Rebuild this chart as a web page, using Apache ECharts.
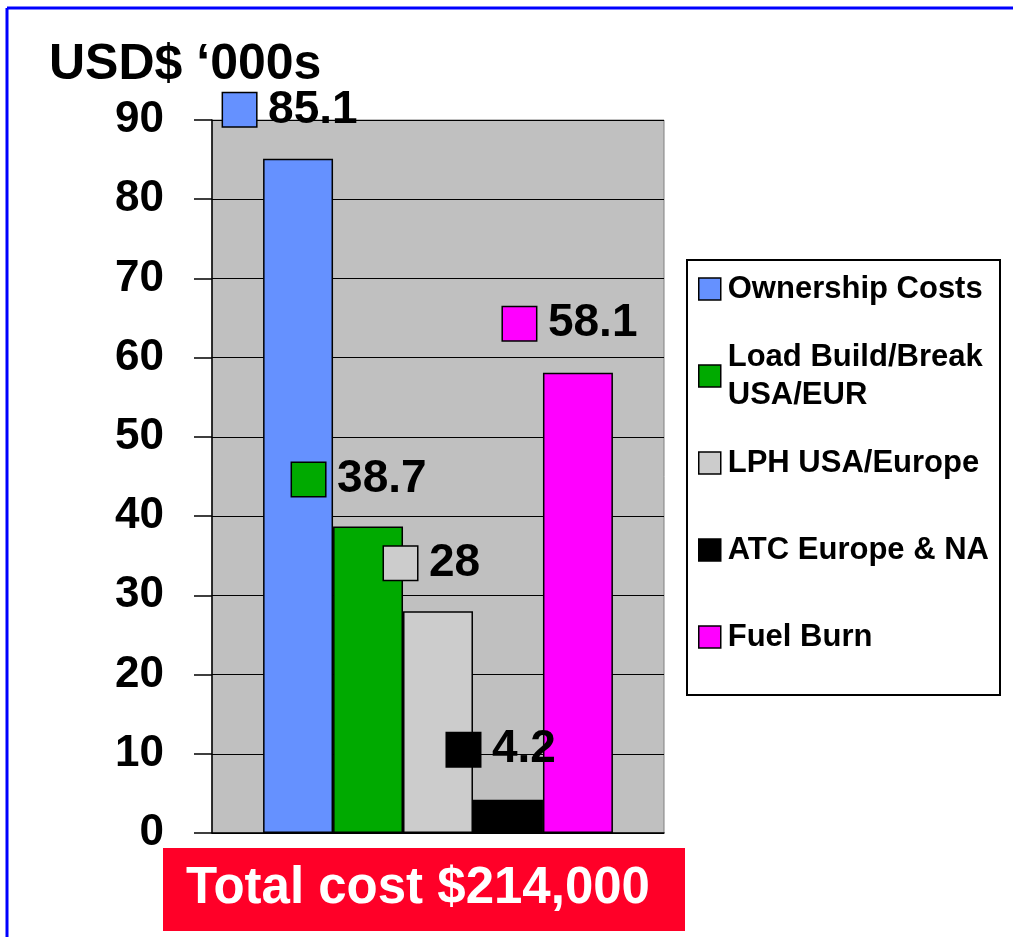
<!DOCTYPE html>
<html>
<head>
<meta charset="utf-8">
<title>USD$ '000s</title>
<script src="https://cdn.jsdelivr.net/npm/echarts@6/dist/echarts.min.js"></script>
<style>
  html, body { margin: 0; padding: 0; background: #fff; }
  #chart { width: 1013px; height: 937px; }
</style>
</head>
<body>
<div id="chart"></div>
<script>
// data
const categories = [''];
const seriesNames = ['Ownership Costs', 'Load Build/Break\nUSA/EUR', 'LPH USA/Europe', 'ATC Europe & NA', 'Fuel Burn'];
const seriesValues = [85.1, 38.7, 28, 4.2, 58.1];
const yMin = 0;
const yMax = 90;
const yStep = 10;
const totalText = 'Total cost $214,000';

// styles
const colors = ['#6591FF', '#00AA00', '#CCCCCC', '#000000', '#FF00FF'];
// where each value box sits, relative to the top-left corner of its bar
const labelOffsets = [[-40, -66], [-41, -64], [-19, -65], [-26, -67], [-40, -66]];
const FONT = 'Liberation Sans';

const chart = echarts.init(document.getElementById('chart'));

const series = seriesNames.map((name, i) => ({
  name: name,
  type: 'bar',
  data: [seriesValues[i]],
  barGap: '0%',
  barCategoryGap: '22.6%',
  itemStyle: { color: colors[i], borderColor: '#000', borderWidth: 1.5 },
  label: {
    show: true,
    position: labelOffsets[i],
    formatter: p => '{box|}{val|' + p.value + '}',
    rich: {
      box: {
        width: 33, height: 33,
        backgroundColor: colors[i],
        borderColor: '#000', borderWidth: 1.5
      },
      val: {
        fontFamily: FONT, fontSize: 46, fontWeight: 'bold', color: '#000',
        lineHeight: 34, padding: [0, 0, 0, 12]
      }
    }
  },
  emphasis: { disabled: true },
  animation: false
}));

chart.setOption({
  animation: false,
  textStyle: { fontFamily: FONT },
  title: {
    text: 'USD$ \u2018000s',
    left: 49,
    top: 40,
    padding: 0,
    textStyle: { fontFamily: FONT, fontSize: 50, fontWeight: 'bold', color: '#000', lineHeight: 50 }
  },
  grid: {
    left: 212, right: 349, top: 120, bottom: 104,
    show: true, backgroundColor: '#C0C0C0', borderColor: '#808080', borderWidth: 1
  },
  legend: {
    orient: 'vertical',
    left: 698,
    top: 232,
    padding: 0,
    itemGap: -27,
    itemWidth: 22,
    itemHeight: 22,
    icon: 'rect',
    selectedMode: false,
    itemStyle: { borderColor: '#000', borderWidth: 1.5 },
    textStyle: {
      fontFamily: FONT, fontSize: 31, fontWeight: 'bold', color: '#000',
      lineHeight: 38, padding: [38, 0, 38, 2], backgroundColor: 'rgba(0,0,0,0)'
    },
    data: seriesNames.map((n, i) => i === 1
      ? { name: n, textStyle: { padding: [38, 0, 0, 2] } }
      : { name: n })
  },
  xAxis: {
    type: 'category',
    data: categories,
    boundaryGap: true,
    axisLine: { lineStyle: { color: '#000', width: 1.5 } },
    axisTick: { length: 15, lineStyle: { color: '#000', width: 1.5 } },
    axisLabel: { show: false }
  },
  yAxis: {
    type: 'value',
    min: yMin,
    max: yMax,
    interval: yStep,
    axisLine: { show: true, lineStyle: { color: '#000', width: 1.5 } },
    axisTick: { show: true, length: 18, lineStyle: { color: '#000', width: 1.5 } },
    splitLine: { lineStyle: { color: '#000', width: 1.2 } },
    axisLabel: { fontFamily: FONT, fontSize: 44, fontWeight: 'bold', color: '#000', margin: 48 }
  },
  graphic: [
    // blue frame around the slide
    { type: 'line', shape: { x1: 7, y1: 8, x2: 1013, y2: 8 }, style: { stroke: '#0000FF', lineWidth: 3 } },
    { type: 'line', shape: { x1: 7, y1: 8, x2: 7, y2: 937 }, style: { stroke: '#0000FF', lineWidth: 3 } },
    // legend box
    { type: 'rect', z: 1, shape: { x: 687, y: 260, width: 313, height: 435 },
      style: { fill: '#fff', stroke: '#000', lineWidth: 2 } },
    // red total banner
    { type: 'rect', z: 1, shape: { x: 163, y: 848, width: 522, height: 83 }, style: { fill: '#FF0028' } },
    { type: 'text', z: 2, x: 418, y: 889,
      style: { text: totalText, fill: '#fff', font: 'bold 51px "Liberation Sans"', align: 'center', verticalAlign: 'middle' } }
  ],
  series: series
});
</script>
</body>
</html>
